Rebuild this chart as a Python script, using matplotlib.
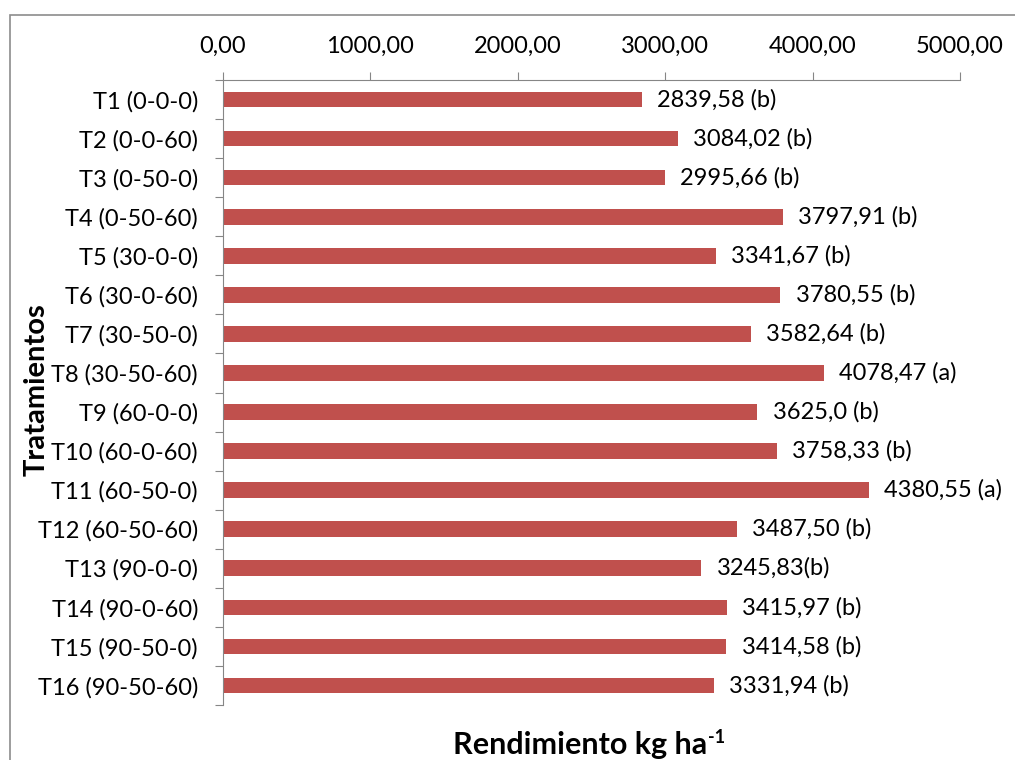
import matplotlib.pyplot as plt
from matplotlib.patches import Rectangle

# treatments and yield (kg/ha) with significance letters
tratamientos = ["T1 (0-0-0)", "T2 (0-0-60)", "T3 (0-50-0)", "T4 (0-50-60)",
                "T5 (30-0-0)", "T6 (30-0-60)", "T7 (30-50-0)", "T8 (30-50-60)",
                "T9 (60-0-0)", "T10 (60-0-60)", "T11 (60-50-0)", "T12 (60-50-60)",
                "T13 (90-0-0)", "T14 (90-0-60)", "T15 (90-50-0)", "T16 (90-50-60)"]
rendimiento = [2839.58, 3084.02, 2995.66, 3797.91, 3341.67, 3780.55, 3582.64, 4078.47,
               3625.0, 3758.33, 4380.55, 3487.50, 3245.83, 3415.97, 3414.58, 3331.94]
etiquetas = ["2839,58 (b)", "3084,02 (b)", "2995,66 (b)", "3797,91 (b)", "3341,67 (b)",
             "3780,55 (b)", "3582,64 (b)", "4078,47 (a)", "3625,0 (b)", "3758,33 (b)",
             "4380,55 (a)", "3487,50 (b)", "3245,83(b)", "3415,97 (b)", "3414,58 (b)",
             "3331,94 (b)"]
xticks = [0, 1000, 2000, 3000, 4000, 5000]
xtick_labels = ["0,00", "1000,00", "2000,00", "3000,00", "4000,00", "5000,00"]

plt.rcParams['font.family'] = ['Lato', 'DejaVu Sans']
bar_color = "#C0504D"
axis_color = "#868686"
fs = 17

fig = plt.figure(figsize=(10.15, 7.6), dpi=100)
ax = fig.add_axes([223 / 1015, 1 - 705 / 760, (960 - 223) / 1015, (705 - 80) / 760])

# outer chart frame
fig.patches.append(Rectangle((10 / 1015, -0.05), 1.2, 1 - 15 / 760 + 0.05,
                             transform=fig.transFigure, fill=False,
                             edgecolor="#8c8c8c", linewidth=1.2))

y = list(range(len(tratamientos)))
ax.barh(y, rendimiento, height=0.4, color=bar_color)
for yi, v, lab in zip(y, rendimiento, etiquetas):
    ax.annotate(lab, (v, yi), xytext=(11, 0), textcoords="offset points",
                va="center", ha="left", fontsize=fs)

ax.set_xlim(0, 5000)
ax.set_ylim(len(tratamientos) - 0.5, -0.5)
ax.xaxis.tick_top()
ax.set_xticks(xticks)
ax.set_xticklabels(xtick_labels, fontsize=fs)
ax.tick_params(axis="x", direction="out", length=6, color=axis_color, pad=11)

ax.set_yticks([i - 0.5 for i in range(len(tratamientos) + 1)])
ax.set_yticklabels([])
ax.set_yticks(y, minor=True)
ax.set_yticklabels(tratamientos, minor=True, fontsize=fs)
ax.tick_params(axis="y", which="major", direction="out", length=6, color=axis_color)
ax.tick_params(axis="y", which="minor", length=0, pad=18)

for s in ["right", "bottom"]:
    ax.spines[s].set_visible(False)
for s in ["top", "left"]:
    ax.spines[s].set_color(axis_color)

fig.text(37 / 1015, 1 - 390 / 760, "Tratamientos", rotation=90, fontsize=21,
         fontweight="bold", ha="center", va="center")

# axis title with a small superscript after "ha"
xt = fig.text(580 / 1015, 1 - 745 / 760, "Rendimiento kg ha", fontsize=22,
              fontweight="bold", ha="center", va="center")
fig.canvas.draw()
bb = xt.get_window_extent().transformed(fig.transFigure.inverted())
fig.text(bb.x1 + 0.001, bb.y1 + 0.002, "-1", fontsize=13, fontweight="bold",
         ha="left", va="top")

fig.savefig("out.png", dpi=100)
